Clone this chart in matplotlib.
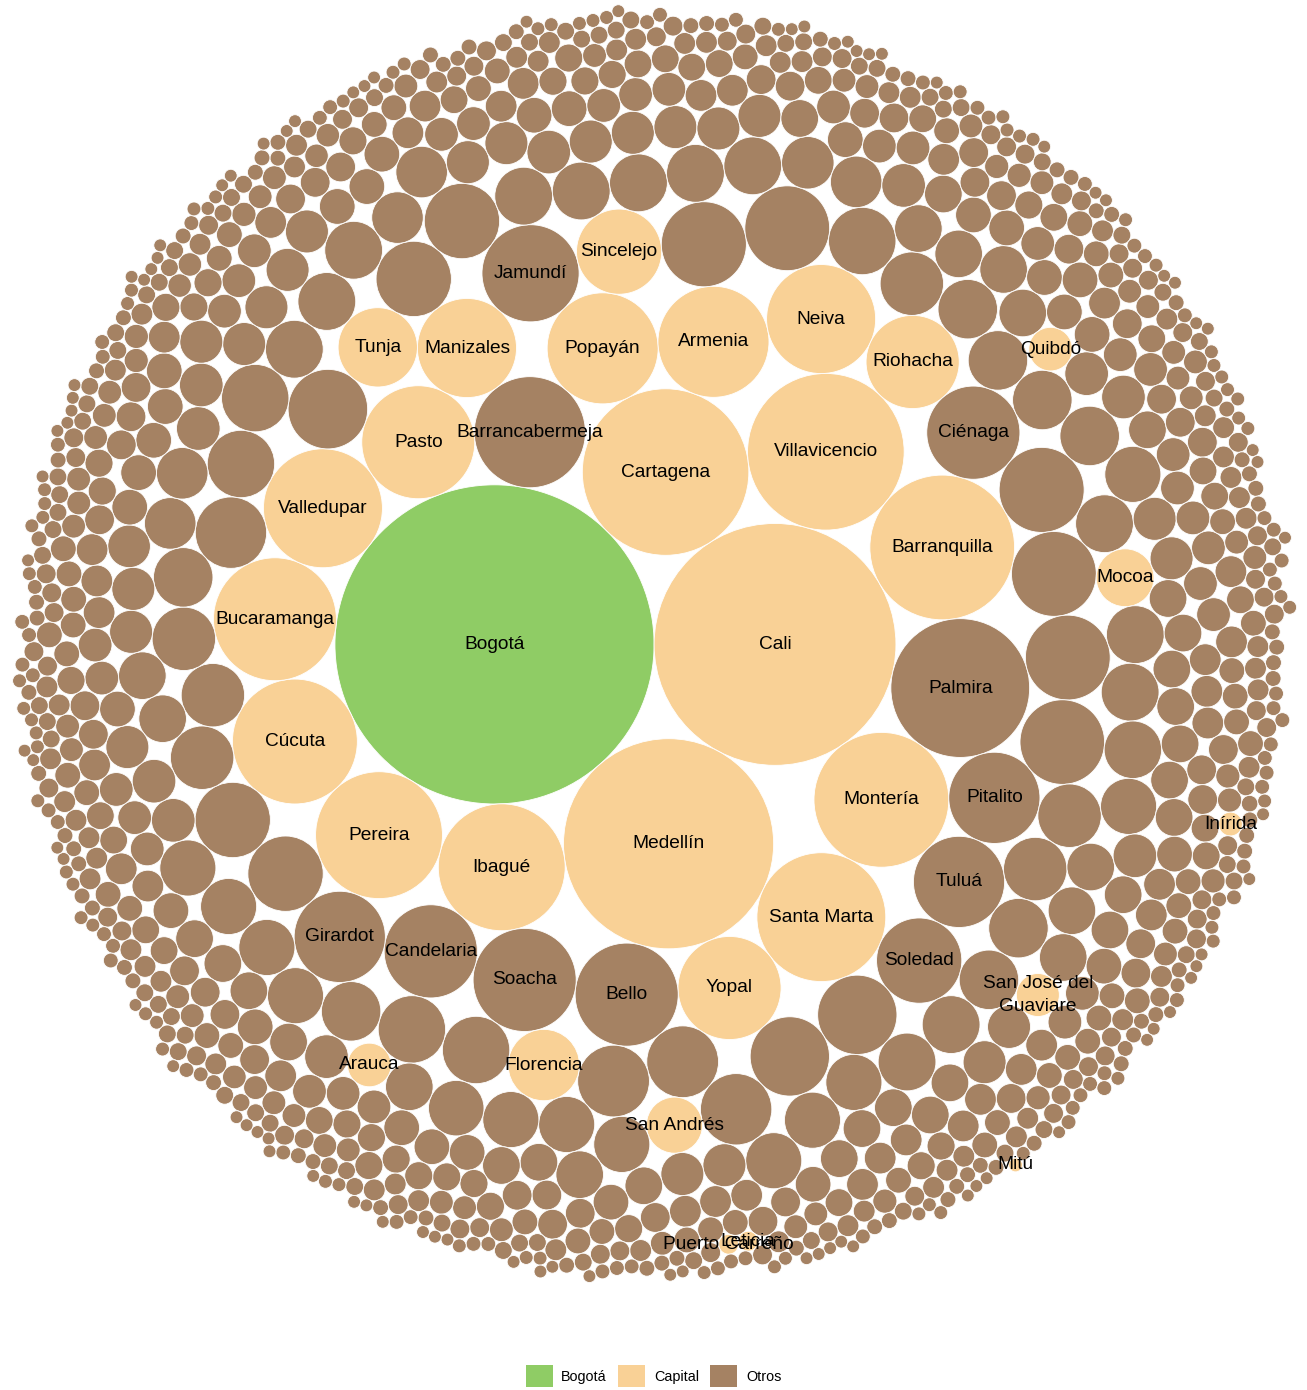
import math
import numpy as np
import matplotlib
matplotlib.use("Agg")
import matplotlib.pyplot as plt
from matplotlib.patches import Circle, Patch
from matplotlib.collections import PatchCollection

plt.rcParams['font.family'] = ['Liberation Sans', 'DejaVu Sans']

# valores (área de cada burbuja)
bogota_nombre = ['Bogotá']
bogota_valor = [259210]

capital_nombre = ['Cali', 'Medellín', 'Cartagena', 'Villavicencio', 'Barranquilla',
                  'Montería', 'Santa Marta', 'Ibagué', 'Pereira', 'Cúcuta',
                  'Bucaramanga', 'Valledupar', 'Pasto', 'Popayán', 'Armenia',
                  'Neiva', 'Yopal', 'Manizales', 'Riohacha', 'Sincelejo', 'Tunja',
                  'Florencia', 'Mocoa', 'San Andrés', 'Arauca',
                  'San José del\nGuaviare', 'Quibdó', 'Leticia', 'Puerto Carreño',
                  'Inírida', 'Mitú']
capital_valor = [148840, 112360, 70560, 62410, 53290,
                 46240, 42250, 40960, 40960, 39690,
                 38440, 36000, 32490, 31370, 31360,
                 30250, 27040, 25000, 22090, 18450, 16000,
                 12960, 8500, 8000, 4840,
                 4700, 4841, 1000, 1000,
                 1440, 490]

otros_nombre = ['Palmira', 'Barrancabermeja', 'Bello', 'Soacha', 'Jamundí',
                'Ciénaga', 'Candelaria', 'Girardot', 'Pitalito', 'Tuluá', 'Soledad']
otros_nombre_valor = [49000, 31400, 27040, 27040, 24010,
                      22090, 22090, 21160, 21160, 21160, 18490]

# resto de municipios sin etiqueta: valor aproximado y cuántos hay de cada uno
otros_valor = [18400, 18300, 18200, 16100, 16000, 14440, 13100, 12960, 11560, 10240, 9000,
               8501, 8500, 8410, 8001, 8000, 7840, 7000, 6760, 5760,
               4841, 4840, 4701, 4700, 4620,
               3610, 3240, 2890, 2560, 2250, 2000, 1960, 1690, 1480,
               1441, 1440, 1420, 1400, 1210, 1001, 1000,
               810, 700, 640, 560, 491, 490, 420]
otros_n = [2, 3, 1, 1, 2, 4, 2, 2, 5, 6, 8,
           9, 4, 1, 1, 11, 1, 1, 5, 11,
           4, 6, 3, 18, 1,
           24, 27, 30, 34, 38, 23, 20, 47, 10,
           34, 4, 1, 4, 58, 22, 40,
           70, 1, 72, 66, 56, 9, 80]

colores = {'Bogotá': '#8fcc65', 'Capital': '#f9d196', 'Otros': '#a58263'}


def place(b, a, c):
    dx = b[0] - a[0]
    dy = b[1] - a[1]
    d2 = dx * dx + dy * dy
    if d2:
        a2 = (a[2] + c[2]) ** 2
        b2 = (b[2] + c[2]) ** 2
        if a2 > b2:
            x = (d2 + b2 - a2) / (2 * d2)
            y = math.sqrt(max(0, b2 / d2 - x * x))
            c[0] = b[0] - x * dx - y * dy
            c[1] = b[1] - x * dy + y * dx
        else:
            x = (d2 + a2 - b2) / (2 * d2)
            y = math.sqrt(max(0, a2 / d2 - x * x))
            c[0] = a[0] + x * dx - y * dy
            c[1] = a[1] + x * dy + y * dx
    else:
        c[0] = a[0] + c[2]
        c[1] = a[1]


def intersects(a, b):
    dr = a[2] + b[2] - 1e-6
    dx = b[0] - a[0]
    dy = b[1] - a[1]
    return dr > 0 and dr * dr > dx * dx + dy * dy


def pack_circles(radios):
    # front-chain packing: each new circle goes next to the chain circle
    # closest to the origin (first two circles touch at the origin)
    C = [[0.0, 0.0, r] for r in radios]
    n = len(C)
    C[0][0] = -C[0][2]
    C[1][0] = C[1][2]
    place(C[1], C[0], C[2])
    nxt = [0] * n
    prv = [0] * n
    a, b, c = 0, 1, 2
    nxt[a] = b; prv[c] = b
    nxt[b] = c; prv[a] = c
    nxt[c] = a; prv[b] = a

    i = 3
    while i < n:
        place(C[a], C[b], C[i])
        j, k = nxt[b], prv[a]
        sj, sk = C[b][2], C[a][2]
        again = False
        while True:
            if sj <= sk:
                if intersects(C[j], C[i]):
                    b = j; nxt[a] = b; prv[b] = a
                    again = True
                    break
                sj += C[j][2]; j = nxt[j]
            else:
                if intersects(C[k], C[i]):
                    a = k; nxt[a] = b; prv[b] = a
                    again = True
                    break
                sk += C[k][2]; k = prv[k]
            if j == nxt[k]:
                break
        if again:
            continue
        prv[i] = a; nxt[i] = b; nxt[a] = i; prv[b] = i
        # closest chain circle to the origin
        m, dm = i, C[i][0] ** 2 + C[i][1] ** 2
        c = nxt[i]
        while c != i:
            d = C[c][0] ** 2 + C[c][1] ** 2
            if d < dm:
                m, dm = c, d
            c = nxt[c]
        a, b = prv[m], m
        i += 1
    return np.array(C)


def enclose(C):
    # aproximación del círculo mínimo que contiene a todos
    xy = C[:, :2]
    r = C[:, 2]
    cen = xy.mean(axis=0)
    for it in range(4000):
        d = np.hypot(xy[:, 0] - cen[0], xy[:, 1] - cen[1]) + r
        f = np.argmax(d)
        v = xy[f] - cen
        nv = np.hypot(*v)
        far = xy[f] + (v / nv if nv > 0 else 0) * r[f]
        cen = cen + (far - cen) / (it + 2)
    R = (np.hypot(xy[:, 0] - cen[0], xy[:, 1] - cen[1]) + r).max()
    return cen, R


# armar la lista de burbujas
registros = [(n, v, 'Bogotá', True) for n, v in zip(bogota_nombre, bogota_valor)]
registros += [(n, v, 'Capital', True) for n, v in zip(capital_nombre, capital_valor)]
registros += [(n, v, 'Otros', True) for n, v in zip(otros_nombre, otros_nombre_valor)]
for v, cnt in zip(otros_valor, otros_n):
    registros += [('', v, 'Otros', False)] * cnt
registros.sort(key=lambda t: -t[1])

C = pack_circles([math.sqrt(t[1]) for t in registros])
cen, R = enclose(C)
s = 646.0 / R
X = (C[:, 0] - cen[0]) * s
Y = (C[:, 1] - cen[1]) * s
Rad = C[:, 2] * s

fig = plt.figure(figsize=(13.07, 13.90), dpi=100)
ax = fig.add_axes([0, 0, 1, 1])
ax.set_xlim(-654.5, 652.5)
ax.set_ylim(745, -645)
ax.set_aspect('equal')
ax.axis('off')

patches = [Circle((x, y), r) for x, y, r in zip(X, Y, Rad)]
pc = PatchCollection(patches, facecolors=[colores[t[2]] for t in registros],
                     edgecolors='white', linewidths=0.6)
ax.add_collection(pc)

for (nombre, v, g, lab), x, y in zip(registros, X, Y):
    if lab:
        ax.text(x, y, nombre, ha='center', va='center', fontsize=13.8,
                color='black', linespacing=1.5, zorder=5)

handles = [Patch(facecolor=colores[k], edgecolor='none') for k in colores]
fig.legend(handles, list(colores.keys()), loc='center',
           bbox_to_anchor=(0.5, 1 - 1376 / 1390), ncol=3, frameon=False,
           handlelength=1.86, handleheight=1.86, handletextpad=0.6,
           columnspacing=0.8, fontsize=10.4)

fig.savefig('out.png', dpi=100)
